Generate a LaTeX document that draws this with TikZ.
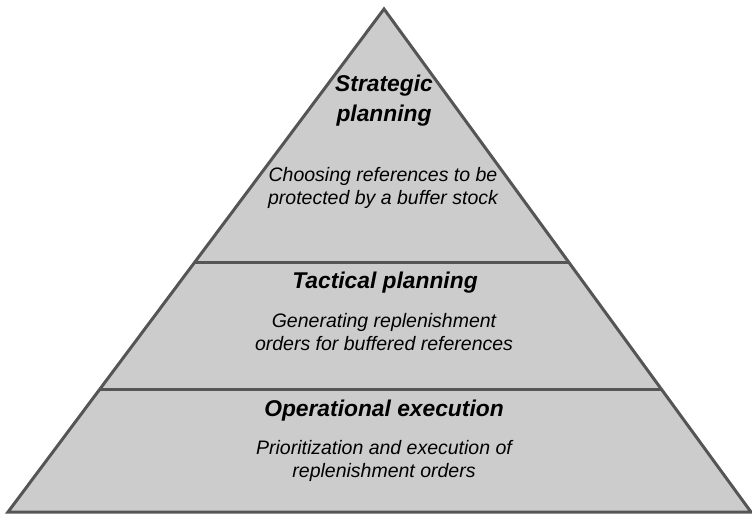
\documentclass[tikz,border=0pt]{standalone}
\usepackage{fontspec}
\setmainfont{Liberation Sans}
\usetikzlibrary{calc}
\definecolor{tierfill}{HTML}{CCCCCC}
\definecolor{tierline}{HTML}{555555}
\tikzset{
  tier/.style={fill=tierfill, draw=tierline, line width=3pt, line join=miter},
  divider/.style={draw=tierline, line width=3pt},
  heading/.style={font=\fontsize{22.8}{30}\selectfont\bfseries\itshape, align=center, anchor=base, inner sep=0pt},
  body/.style={font=\fontsize{19.5}{22.5}\selectfont\itshape, align=center, anchor=base, inner sep=0pt}
}
\begin{document}
\begin{tikzpicture}[x=1pt, y=-1pt]
  \useasboundingbox (0,0) rectangle (752,516);
  % pyramid outline
  \coordinate (apex) at (384,9);
  \coordinate (bl) at (8,512);
  \coordinate (br) at (751,512);
  \draw[tier] (apex) -- (bl) -- (br) -- cycle;
  % tier boundaries
  \coordinate (l1) at ($(apex)!0.503!(bl)$);
  \coordinate (r1) at ($(apex)!0.503!(br)$);
  \coordinate (l2) at ($(apex)!0.7555!(bl)$);
  \coordinate (r2) at ($(apex)!0.7555!(br)$);
  \draw[divider] (l1) -- (r1);
  \draw[divider] (l2) -- (r2);
  % labels (anchored at the baseline of the last line)
  \node[heading] (strat) at (384,122) {Strategic\\planning};
  \node[body] (stratd) at (383,204) {Choosing references to be\\protected by a buffer stock};
  \node[heading] (tact) at (385,288) {Tactical planning};
  \node[body] (tactd) at (384,350) {Generating replenishment\\orders for buffered references};
  \node[heading] (oper) at (384,416) {Operational execution};
  \node[body] (operd) at (384,477) {Prioritization and execution of\\replenishment orders};
\end{tikzpicture}
\end{document}
